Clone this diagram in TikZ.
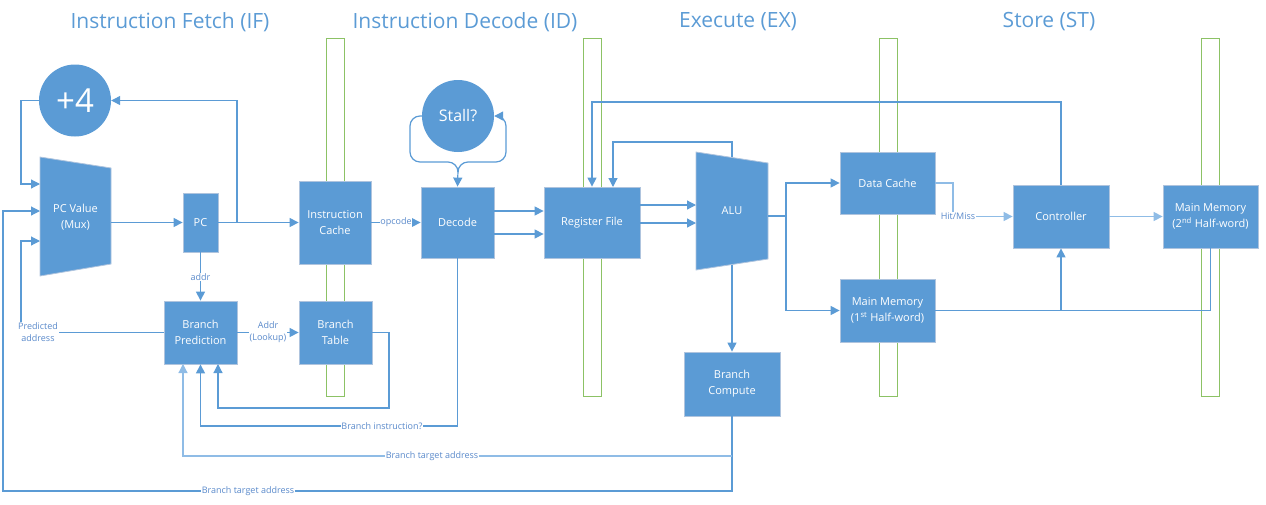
\documentclass[tikz,border=0pt]{standalone}
\usepackage{fontspec}
\setmainfont{Open Sans}
\usetikzlibrary{arrows.meta,shapes.geometric}
\definecolor{blk}{HTML}{5B9BD5}
\definecolor{bord}{HTML}{AFC4DE}
\definecolor{grn}{HTML}{8CC265}
\definecolor{lbl}{HTML}{5A8ACB}
\definecolor{wirec}{HTML}{5B9BD5}
\definecolor{wirel}{HTML}{8FBCE6}
\tikzset{
  box/.style={fill=blk, draw=bord, line width=0.8pt, text=white, align=center, inner sep=0pt,
    font=\fontsize{11}{16}\selectfont},
  circ/.style={circle, fill=blk, text=white, inner sep=0pt, minimum size=72pt},
  wire/.style={draw=wirec, line width=1.2pt},
  arr/.style={wire, -{Triangle[length=9pt,width=9pt]}},
  lab/.style={fill=white, text=lbl, font=\fontsize{9}{12}\selectfont, inner sep=0.8pt, align=center},
  ttl/.style={text=blk, font=\fontsize{21}{26}\selectfont},
  preg/.style={draw=grn, line width=1pt},
  muxtext/.style={text=white, align=center, font=\fontsize{11}{16}\selectfont}
}
\begin{document}
\begin{tikzpicture}[x=1pt,y=-1pt]
\useasboundingbox (0,0) rectangle (1266,504);
% titles
\node[ttl] (t1) at (170,22) {Instruction Fetch (IF)};
\node[ttl] (t2) at (465,22) {Instruction Decode (ID)};
\node[ttl] (t3) at (738,22) {Execute (EX)};
\node[ttl] (t4) at (1049,22) {Store (ST)};
% pipeline registers
\draw[preg] (326,38) rectangle (344,396);
\draw[preg] (583,38) rectangle (601,396);
\draw[preg] (879,38) rectangle (897,396);
\draw[preg] (1201,38) rectangle (1219,396);
% mux and ALU shapes
\filldraw[fill=blk, draw=bord, line width=0.8pt] (40,157) -- (111,168) -- (111,264) -- (40,276) -- cycle;
\node[muxtext] (mux) at (75.5,217) {PC Value\\(Mux)};
\filldraw[fill=blk, draw=bord, line width=0.8pt] (696,152) -- (768,163) -- (768,259) -- (696,270) -- cycle;
\node[muxtext] (alu) at (732,211) {ALU};
\coordinate (muxA) at (40,184);
\coordinate (muxB) at (40,211);
\coordinate (muxC) at (40,241);
\coordinate (muxR) at (111,222.5);
\coordinate (aluL1) at (696,205);
\coordinate (aluL2) at (696,223);
\coordinate (aluR) at (768,216);
\coordinate (aluT) at (732,157);
\coordinate (aluB) at (732,265);
% nodes
\node[circ, font=\fontsize{33}{33}\selectfont] (p4) at (75,100.5) {+4};
\node[circ, font=\fontsize{16}{18}\selectfont] (stall) at (458,116) {Stall?};
\node[box, minimum width=35pt, minimum height=59pt] (pc) at (200.5,222.5) {PC};
\node[box, minimum width=72pt, minimum height=83pt] (ic) at (335,222.5) {Instruction\\Cache};
\node[box, minimum width=73pt, minimum height=63pt] (bp) at (200.5,332.5) {Branch\\Prediction};
\node[box, minimum width=73pt, minimum height=63pt] (bt) at (335.5,332.5) {Branch\\Table};
\node[box, minimum width=73pt, minimum height=71pt] (dec) at (457.5,222.5) {Decode};
\node[box, minimum width=96pt, minimum height=71pt] (rf) at (592,222.5) {Register File};
\node[box, minimum width=95pt, minimum height=62pt] (dc) at (887.5,183) {Data Cache};
\node[box, minimum width=95pt, minimum height=63pt] (mm1) at (887.5,310.5) {Main Memory\\(1\textsuperscript{st} Half-word)};
\node[box, minimum width=96pt, minimum height=63pt] (ctrl) at (1061,216.5) {Controller};
\node[box, minimum width=95pt, minimum height=63pt] (mm2) at (1210.5,216.5) {Main Memory\\(2\textsuperscript{nd} Half-word)};
\node[box, minimum width=96pt, minimum height=64pt] (bc) at (732,384) {Branch\\Compute};
% helper coordinates
\coordinate (j1) at (237,222.5);
\coordinate (bpin1) at (183,364);
\coordinate (bpin3) at (218,364);
\coordinate (bcj) at (732,456);
\coordinate (rfin2) at (613,187);
\coordinate (aj) at (786,216);
% IF connectors
\draw[arr] (p4.west) -| (21,184) -- (muxA);
\draw[arr] (bc.south) |- (3,491) |- (muxB);
\draw[arr] (bp.west) -| (21,241) -- (muxC);
\draw[arr] (muxR) -- (pc.west);
\draw[arr] (pc.east) -- (ic.west);
\draw[arr] (j1) |- (p4.east);
\draw[arr] (pc.south) -- (bp.north);
\draw[arr] (bp.east) -- (bt.west);
\draw[arr] (bt.east) -| (389,408) -| (bpin3);
\draw[arr] (dec.south) -- (457.5,426) -| (bp.south);
\draw[arr, draw=wirel] (bcj) -| (bpin1);
% ID connectors
\draw[arr] (ic.east) -- (dec.west);
\draw[wire, rounded corners=10pt] (stall.west) -- (410,116) -- (410,162) -- (458,162) -- (458,172);
\draw[arr] (458,170) -- (dec.north);
\draw[arr, rounded corners=10pt] (458,172) -- (458,162) -- (506,162) -- (506,116) -- (stall.east);
\draw[arr] (dec.east |- 0,211) -- (rf.west |- 0,211);
\draw[arr] (dec.east |- 0,234) -- (rf.west |- 0,234);
% EX connectors
\draw[arr] (rf.east |- aluL1) -- (aluL1);
\draw[arr] (rf.east |- aluL2) -- (aluL2);
\draw[arr] (aluR) -- (aj) |- (dc.west);
\draw[arr] (aj) |- (mm1.west);
\draw[arr] (aluB) -- (bc.north);
\draw[arr] (aluT) |- (613,142) -- (rfin2);
\draw[arr] (ctrl.north) |- (592,102) -- (rf.north);
% ST connectors
\draw[arr, draw=wirel] (dc.east) -| (953,216.5) -- (ctrl.west);
\draw[arr, draw=wirel] (ctrl.east) -- (mm2.west);
\draw[wire] (mm1.east) -| (mm2.south);
\draw[arr] (ctrl.south |- mm1.east) -- (ctrl.south);
% labels
\node[lab] (l1) at (38,332.5) {Predicted\\address};
\node[lab] (l2) at (200.5,277) {addr};
\node[lab] (l3) at (268,332.5) {Addr\\(Lookup)};
\node[lab] (l4) at (396,222.5) {opcode};
\node[lab] (l5) at (382,426) {Branch instruction?};
\node[lab] (l6) at (432,456) {Branch target address};
\node[lab] (l7) at (248,491) {Branch target address};
\node[lab] (l8) at (958,216.5) {Hit/Miss};
\end{tikzpicture}
\end{document}
